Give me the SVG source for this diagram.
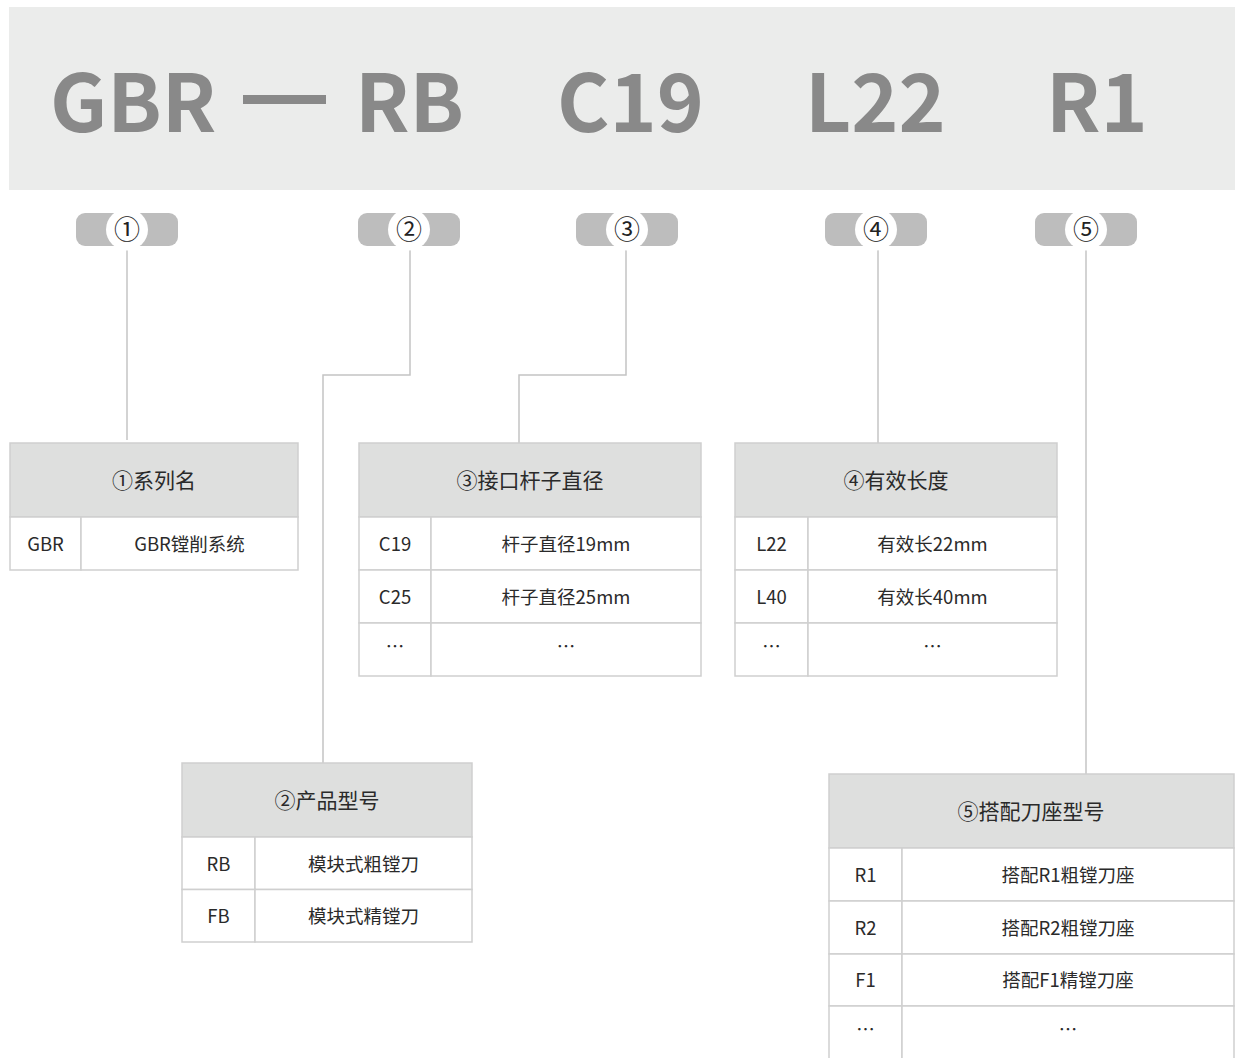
<svg xmlns="http://www.w3.org/2000/svg" width="1235" height="1058" viewBox="0 0 1235 1058">
<style>
text{font-family:"Noto Sans CJK SC","Noto Sans",sans-serif;}
.big{font-size:80px;font-weight:700;fill:#898989;}
.hd{fill:#DEDFDE;stroke:#CFCFCF;stroke-width:1.5;}
.cell{fill:#FFFFFF;stroke:#CFCFCF;stroke-width:1.5;}
.ht{font-size:21px;fill:#2A2A2A;text-anchor:middle;}
.bt{font-size:18.5px;fill:#2A2A2A;text-anchor:middle;}
.pill{fill:#BDBDBD;}
.dot{fill:#FFFFFF;}
.num{font-size:26px;fill:#222222;text-anchor:middle;}
.conn{fill:none;stroke:#C4C4C4;stroke-width:1.5;}
</style>
<rect width="1235" height="1058" fill="#FFFFFF"/>
<g id="title">
<rect x="9" y="7" width="1226" height="183" fill="#EBECEB"/>
<text class="big" x="50" y="132">GBR</text>
<rect x="243" y="95" width="83" height="9" fill="#898989"/>
<text class="big" x="355" y="132">RB</text>
<text class="big" x="557" y="132">C19</text>
<text class="big" x="805" y="132">L22</text>
<text class="big" x="1046" y="132">R1</text>
</g>
<g id="connectors">
<path class="conn" d="M127 246V440"/>
<path class="conn" d="M410 246V375H323V763"/>
<path class="conn" d="M626 246V375H519V443"/>
<path class="conn" d="M878 246V443"/>
<path class="conn" d="M1086 246V774"/>
</g>
<g id="badge1"><rect class="pill" x="76" y="213" width="102" height="33" rx="9"/><circle class="dot" cx="127" cy="229.5" r="21"/><text class="num" x="127" y="238.5">①</text></g>
<g id="badge2"><rect class="pill" x="358" y="213" width="102" height="33" rx="9"/><circle class="dot" cx="409" cy="229.5" r="21"/><text class="num" x="409" y="238.5">②</text></g>
<g id="badge3"><rect class="pill" x="576" y="213" width="102" height="33" rx="9"/><circle class="dot" cx="627" cy="229.5" r="21"/><text class="num" x="627" y="238.5">③</text></g>
<g id="badge4"><rect class="pill" x="825" y="213" width="102" height="33" rx="9"/><circle class="dot" cx="876" cy="229.5" r="21"/><text class="num" x="876" y="238.5">④</text></g>
<g id="badge5"><rect class="pill" x="1035" y="213" width="102" height="33" rx="9"/><circle class="dot" cx="1086" cy="229.5" r="21"/><text class="num" x="1086" y="238.5">⑤</text></g>
<g id="table1">
<rect class="hd" x="10" y="443" width="288" height="74"/>
<text class="ht" x="154" y="488">①系列名</text>
<rect class="cell" x="10" y="517" width="71" height="53"/>
<rect class="cell" x="81" y="517" width="217" height="53"/>
<text class="bt" x="45.5" y="550.5">GBR</text>
<text class="bt" x="189.5" y="550.5">GBR镗削系统</text>
</g>
<g id="table2">
<rect class="hd" x="182" y="763" width="290" height="74"/>
<text class="ht" x="327" y="808">②产品型号</text>
<rect class="cell" x="182" y="837" width="73" height="52.5"/>
<rect class="cell" x="255" y="837" width="217" height="52.5"/>
<rect class="cell" x="182" y="889.5" width="73" height="52.5"/>
<rect class="cell" x="255" y="889.5" width="217" height="52.5"/>
<text class="bt" x="218.5" y="870.5">RB</text>
<text class="bt" x="363.5" y="870.5">模块式粗镗刀</text>
<text class="bt" x="218.5" y="922.5">FB</text>
<text class="bt" x="363.5" y="922.5">模块式精镗刀</text>
</g>
<g id="table3">
<rect class="hd" x="359" y="443" width="342" height="74"/>
<text class="ht" x="530" y="488">③接口杆子直径</text>
<rect class="cell" x="359" y="517" width="72" height="53"/>
<rect class="cell" x="431" y="517" width="270" height="53"/>
<rect class="cell" x="359" y="570" width="72" height="53"/>
<rect class="cell" x="431" y="570" width="270" height="53"/>
<rect class="cell" x="359" y="623" width="72" height="53"/>
<rect class="cell" x="431" y="623" width="270" height="53"/>
<text class="bt" x="395" y="550.5">C19</text>
<text class="bt" x="566" y="550.5">杆子直径19mm</text>
<text class="bt" x="395" y="603.5">C25</text>
<text class="bt" x="566" y="603.5">杆子直径25mm</text>
<text class="bt" x="395" y="653">…</text>
<text class="bt" x="566" y="653">…</text>
</g>
<g id="table4">
<rect class="hd" x="735" y="443" width="322" height="74"/>
<text class="ht" x="896" y="488">④有效长度</text>
<rect class="cell" x="735" y="517" width="73" height="53"/>
<rect class="cell" x="808" y="517" width="249" height="53"/>
<rect class="cell" x="735" y="570" width="73" height="53"/>
<rect class="cell" x="808" y="570" width="249" height="53"/>
<rect class="cell" x="735" y="623" width="73" height="53"/>
<rect class="cell" x="808" y="623" width="249" height="53"/>
<text class="bt" x="771.5" y="550.5">L22</text>
<text class="bt" x="932.5" y="550.5">有效长22mm</text>
<text class="bt" x="771.5" y="603.5">L40</text>
<text class="bt" x="932.5" y="603.5">有效长40mm</text>
<text class="bt" x="771.5" y="653">…</text>
<text class="bt" x="932.5" y="653">…</text>
</g>
<g id="table5">
<rect class="hd" x="829" y="774" width="405" height="74"/>
<text class="ht" x="1031" y="819">⑤搭配刀座型号</text>
<rect class="cell" x="829" y="848" width="73" height="53"/>
<rect class="cell" x="902" y="848" width="332" height="53"/>
<rect class="cell" x="829" y="901" width="73" height="53"/>
<rect class="cell" x="902" y="901" width="332" height="53"/>
<rect class="cell" x="829" y="954" width="73" height="52"/>
<rect class="cell" x="902" y="954" width="332" height="52"/>
<rect class="cell" x="829" y="1006" width="73" height="60"/>
<rect class="cell" x="902" y="1006" width="332" height="60"/>
<text class="bt" x="865.5" y="881.5">R1</text>
<text class="bt" x="1068" y="881.5">搭配R1粗镗刀座</text>
<text class="bt" x="865.5" y="934.5">R2</text>
<text class="bt" x="1068" y="934.5">搭配R2粗镗刀座</text>
<text class="bt" x="865.5" y="986.5">F1</text>
<text class="bt" x="1068" y="986.5">搭配F1精镗刀座</text>
<text class="bt" x="865.5" y="1036">…</text>
<text class="bt" x="1068" y="1036">…</text>
</g>
</svg>
